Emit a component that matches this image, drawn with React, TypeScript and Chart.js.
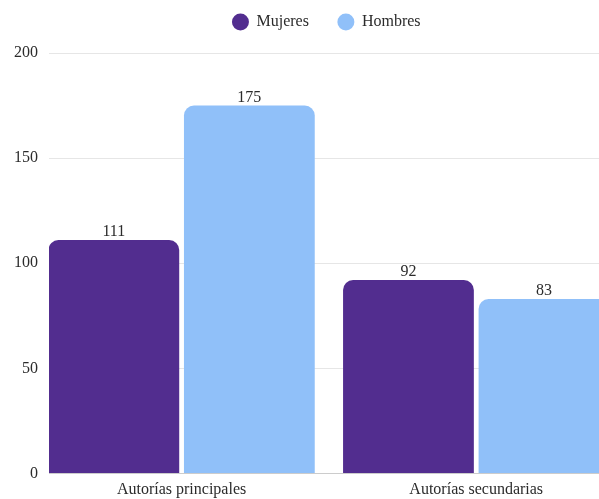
import React, { useEffect, useRef } from 'react';
import { Chart, registerables } from 'chart.js';

Chart.register(...registerables);

// Data
const categories = ['Autorías principales', 'Autorías secundarias'];
const seriesNames = ['Mujeres', 'Hombres'];
const mujeres = [111, 92];
const hombres = [175, 83];
const yTicks = [0, 50, 100, 150, 200];
const seriesColors = ['#522d8f', '#90c0f9'];

const FONT = "'Liberation Serif', 'Times New Roman', Times, serif";
const TEXT = '#2b2b2b';

// Extra breathing room between the legend row and the plot
const legendGap = {
  id: 'legendGap',
  beforeInit(chart: any) {
    const legend = chart.legend;
    if (!legend) return;
    const fit = legend.fit;
    legend.fit = function () {
      fit.call(this);
      this.height += 13;
    };
  },
};

// Value printed above each bar
const valueLabels = {
  id: 'valueLabels',
  afterDatasetsDraw(chart: any) {
    const { ctx } = chart;
    ctx.save();
    ctx.font = `16px ${FONT}`;
    ctx.fillStyle = TEXT;
    ctx.textAlign = 'center';
    ctx.textBaseline = 'alphabetic';
    chart.data.datasets.forEach((ds: any, di: number) => {
      chart.getDatasetMeta(di).data.forEach((bar: any, i: number) => {
        ctx.fillText(String(ds.data[i].y), bar.x, bar.y - 4);
      });
    });
    ctx.restore();
  },
};

export default function App() {
  const canvasRef = useRef<HTMLCanvasElement | null>(null);

  useEffect(() => {
    const canvas = canvasRef.current;
    if (!canvas) return;

    const series = [mujeres, hombres];
    const chart = new Chart(canvas, {
      type: 'bar',
      data: {
        datasets: series.map((values, s) => ({
          label: seriesNames[s],
          data: values.map((v, i) => ({ x: i, y: v })),
          backgroundColor: seriesColors[s],
          borderWidth: 0,
          borderRadius: 10,
          categoryPercentage: 0.92,
          barPercentage: 0.965,
        })),
      },
      options: {
        responsive: false,
        animation: false,
        devicePixelRatio: 1,
        layout: { padding: { top: -15, left: 0, right: 0, bottom: 0 } },
        plugins: {
          legend: {
            position: 'top',
            labels: {
              usePointStyle: true,
              pointStyle: 'circle',
              boxWidth: 16,
              boxHeight: 12,
              padding: 29,
              color: TEXT,
              font: { family: FONT, size: 16 },
            },
          },
          tooltip: { enabled: false },
        },
        scales: {
          x: {
            type: 'linear',
            offset: false,
            min: -0.45,
            max: 1.6,
            grid: { display: false, drawTicks: false },
            border: { display: false },
            afterFit: (axis: any) => {
              axis.height = 25.5;
            },
            afterBuildTicks: (axis: any) => {
              axis.ticks = categories.map((_, i) => ({ value: i }));
            },
            ticks: {
              autoSkip: false,
              maxRotation: 0,
              padding: 7,
              color: TEXT,
              font: { family: FONT, size: 16 },
              callback: (v: any) => categories[v as number] ?? '',
            },
          },
          y: {
            min: 0,
            max: 200,
            afterFit: (axis: any) => {
              axis.width = 49;
            },
            afterBuildTicks: (axis: any) => {
              axis.ticks = yTicks.map((v) => ({ value: v }));
            },
            grid: {
              drawTicks: false,
              color: (ctx: any) => (ctx.tick && ctx.tick.value === 0 ? '#cccccc' : '#e6e6e6'),
            },
            border: { display: false },
            ticks: {
              padding: 11,
              color: TEXT,
              font: { family: FONT, size: 16 },
            },
          },
        },
      },
      plugins: [legendGap, valueLabels],
    } as any);

    return () => chart.destroy();
  }, []);

  return (
    <div
      style={{
        position: 'absolute',
        left: 0,
        top: 0,
        width: 599,
        height: 499,
        overflow: 'hidden',
        background: '#ffffff',
      }}
    >
      <canvas ref={canvasRef} width={653} height={499} style={{ display: 'block' }} />
    </div>
  );
}
